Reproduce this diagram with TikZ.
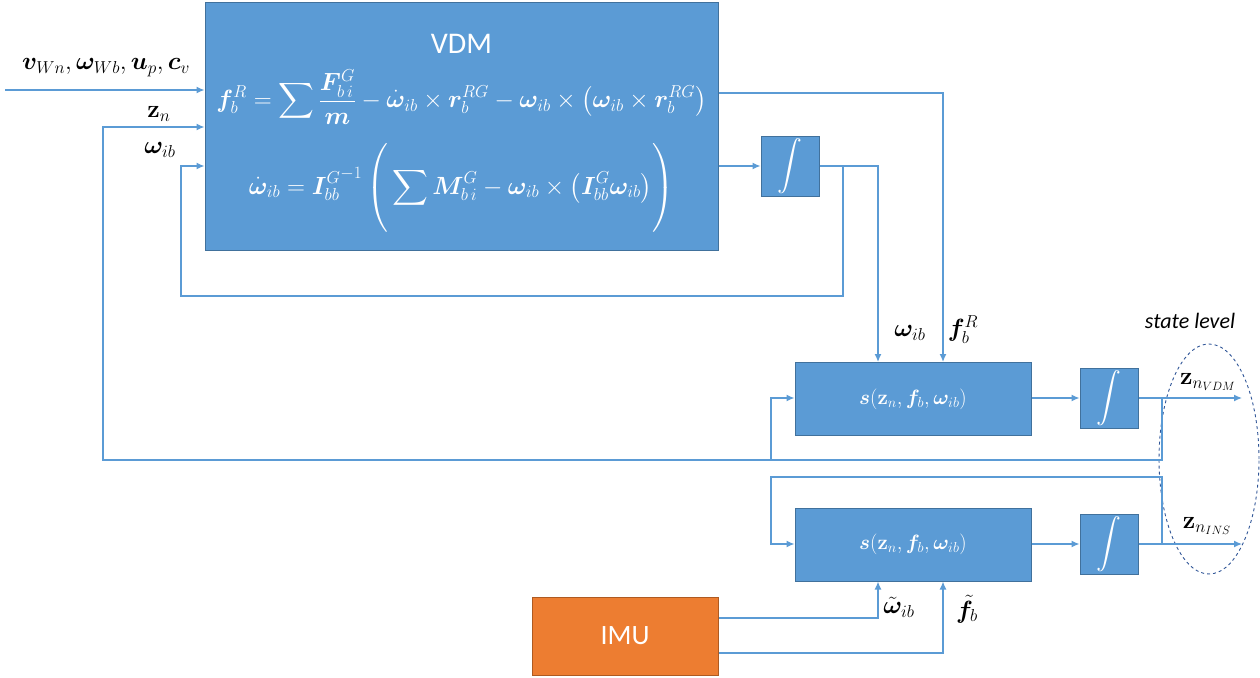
\documentclass[tikz,border=0pt]{standalone}
\usepackage{amsmath}
\usepackage[no-math]{fontspec}
\setmainfont{Carlito}
\usepackage{bm}
\usetikzlibrary{arrows.meta,shapes.geometric}

\definecolor{blockfill}{HTML}{5B9BD5}
\definecolor{blockedge}{HTML}{41719C}
\definecolor{wire}{HTML}{5B9BD5}
\definecolor{imufill}{HTML}{ED7D31}
\definecolor{imuedge}{HTML}{AE5A21}
\definecolor{groupedge}{HTML}{2F5597}

\tikzset{
  block/.style={draw=blockedge, fill=blockfill, line width=1pt, inner sep=0pt, text=white},
  imublock/.style={draw=imuedge, fill=imufill, line width=1pt, inner sep=0pt, text=white,
    font=\fontsize{28}{32}\selectfont},
  wireline/.style={draw=wire, line width=1.3pt},
  arr/.style={wireline, -{Latex[length=8pt,width=7pt]}},
  lbl/.style={inner sep=0pt, text=black, font=\fontsize{23}{27}\selectfont},
  eqn/.style={inner sep=0pt, text=white, font=\fontsize{24.5}{29}\selectfont},
  integ/.style={block, minimum width=58pt, minimum height=60pt,
    font=\fontsize{26}{30}\selectfont},
}

\begin{document}
\begin{tikzpicture}[x=1pt,y=-1pt]
\useasboundingbox (0,0) rectangle (1260,677);

% blocks
\node[block, minimum width=513pt, minimum height=247pt] (vdm) at (461.5,126.5) {};
\node[eqn, font=\fontsize{30}{34}\selectfont] (vdmtitle) at (461.5,44) {VDM};
\node[eqn] (eqf) at (461.5,97)
  {$\displaystyle \bm{f}_b^R=\sum\frac{\bm{F}_{b\,i}^G}{\bm{m}}-\dot{\bm{\omega}}_{ib}\times\bm{r}_b^{RG}-\bm{\omega}_{ib}\times\left(\bm{\omega}_{ib}\times\bm{r}_b^{RG}\right)$};
\node[eqn] (eqw) at (461.5,188)
  {$\displaystyle \dot{\bm{\omega}}_{ib}={\bm{I}_{bb}^G}^{-1}\left(\rule[-38pt]{0pt}{86pt}\sum\bm{M}_{b\,i}^G-\bm{\omega}_{ib}\times\left(\bm{I}_{bb}^G\bm{\omega}_{ib}\right)\right)$};

\node[integ] (int1) at (790,166) {$\displaystyle\int$};
\node[block, minimum width=236pt, minimum height=73pt, font=\fontsize{22}{26}\selectfont] (s1) at (913,399)
  {$\bm{s}(\mathbf{z}_n,\bm{f}_b,\bm{\omega}_{ib})$};
\node[integ] (int2) at (1109,398) {$\displaystyle\int$};
\node[block, minimum width=236pt, minimum height=73pt, font=\fontsize{22}{26}\selectfont] (s2) at (913,544.5)
  {$\bm{s}(\mathbf{z}_n,\bm{f}_b,\bm{\omega}_{ib})$};
\node[integ] (int3) at (1109,544) {$\displaystyle\int$};
\node[imublock, minimum width=186pt, minimum height=78pt] (imu) at (625,636) {IMU};

% state group
\node[draw=groupedge, dashed, line width=0.9pt, ellipse, minimum width=100pt, minimum height=230pt, inner sep=0pt] (state) at (1209,459) {};
\node[lbl, font=\fontsize{22}{26}\selectfont\itshape] (statelbl) at (1190,321) {state level};

% free ends
\coordinate (src) at (5,90);
\coordinate (outvdm) at (1242,398);
\coordinate (outins) at (1242,544);

% inputs of the VDM
\draw[arr] (src) -- (vdm.west |- src);
\draw[arr] (int2.east -| 1162,0) -- (1162,460) -- (103,460) -- (103,127) -- (vdm.west |- 0,127);
\draw[arr] (int1.east -| 843,0) -- (843,296) -- (181,296) -- (181,166) -- (vdm.west |- 0,166);

% VDM outputs
\draw[arr] (vdm.east |- int1) -- (int1.west);
\draw[arr] (vdm.east |- 0,93) -- (943,93) -- (s1.north -| 943,0);
\draw[arr] (int1.east) -- (878,166) -- (s1.north -| 878,0);

% VDM-driven state chain
\draw[arr] (s1.east |- int2) -- (int2.west);
\draw[arr] (int2.east) -- (outvdm);
\draw[arr] (771,460) -- (771,398) -- (s1.west |- 0,398);

% INS state chain
\draw[arr] (s2.east |- int3) -- (int3.west);
\draw[arr] (int3.east) -- (outins);
\draw[arr] (int3.east -| 1162,0) -- (1162,477) -- (771,477) -- (771,544) -- (s2.west |- 0,544);

% IMU measurements
\draw[arr] (imu.east |- 0,618) -- (878,618) -- (s2.south -| 878,0);
\draw[arr] (imu.east |- 0,653) -- (943,653) -- (s2.south -| 943,0);

% signal labels
\node[lbl] (lin) at (106,68) {$\bm{v}_{Wn},\bm{\omega}_{Wb},\bm{u}_p,\bm{c}_v$};
\node[lbl] (lzn) at (159,114) {$\mathbf{z}_n$};
\node[lbl] (lw) at (160,150) {$\bm{\omega}_{ib}$};
\node[lbl] (lw2) at (910,333) {$\bm{\omega}_{ib}$};
\node[lbl] (lf2) at (963,330) {$\bm{f}_b^R$};
\node[lbl] (lzv) at (1208,382) {$\mathbf{z}_{n_{VDM}}$};
\node[lbl] (lzi) at (1207,526) {$\mathbf{z}_{n_{INS}}$};
\node[lbl] (lwt) at (899,607) {$\tilde{\bm{\omega}}_{ib}$};
\node[lbl] (lft) at (967,609) {$\tilde{\bm{f}}_b$};
\end{tikzpicture}
\end{document}
